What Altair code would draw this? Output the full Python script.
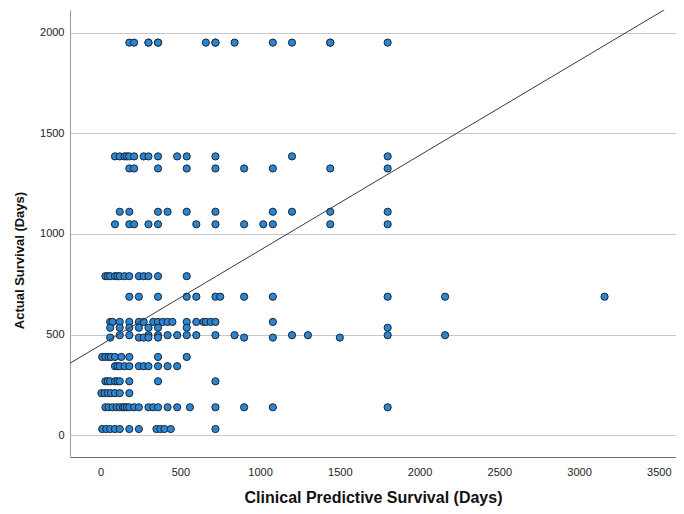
import altair as alt
import pandas as pd

# Actual survival levels (days) and the clinical predictive survival values (days) seen on each level
actual_levels = [1950, 1385, 1325, 1110, 1048, 790, 688, 563, 534, 497, 485, 389, 343, 268, 209, 139, 31]

pred_1950 = [180, 210, 300, 300, 360, 360, 660, 720, 720, 840, 1080, 1200, 1440, 1440, 1800]
pred_1385 = [90, 120, 150, 165, 180, 210, 270, 300, 360, 480, 540, 720, 1200, 1800]
pred_1325 = [180, 210, 360, 540, 720, 900, 1080, 1440, 1800]
pred_1110 = [120, 180, 360, 420, 540, 720, 1080, 1200, 1440, 1800]
pred_1048 = [90, 180, 210, 300, 360, 600, 720, 900, 1020, 1080, 1440, 1800]
pred_790 = [30, 45, 60, 90, 105, 120, 150, 180, 240, 270, 300, 360, 540]
pred_688 = [180, 240, 360, 540, 600, 720, 750, 900, 1080, 1800, 2160, 3160]
pred_563 = [60, 75, 120, 180, 240, 270, 330, 360, 390, 420, 450, 540, 600, 645, 660, 690, 720, 1080]
pred_534 = [60, 120, 180, 240, 300, 360, 540, 1800]
pred_497 = [120, 180, 300, 360, 420, 480, 540, 600, 720, 840, 1200, 1300, 1800, 2160]
pred_485 = [60, 240, 270, 300, 360, 900, 1080, 1500]
pred_389 = [10, 30, 50, 65, 90, 130, 180, 360, 540]
pred_343 = [90, 105, 120, 150, 180, 240, 270, 300, 360, 420, 480]
pred_268 = [30, 45, 60, 90, 105, 120, 180, 360, 720]
pred_209 = [5, 25, 45, 65, 90, 120, 180]
pred_139 = [30, 50, 75, 100, 120, 140, 150, 165, 180, 210, 240, 300, 330, 360, 420, 480, 560, 720, 900, 1080, 1800]
pred_31 = [10, 35, 60, 90, 120, 180, 240, 350, 375, 400, 440, 720]

pred_lists = [pred_1950, pred_1385, pred_1325, pred_1110, pred_1048, pred_790, pred_688,
              pred_563, pred_534, pred_497, pred_485, pred_389, pred_343, pred_268,
              pred_209, pred_139, pred_31]

# Fit line
fit_intercept = 448
fit_slope = 0.471
fit_x = [-300, 3800]

x_ticks = [0, 500, 1000, 1500, 2000, 2500, 3000, 3500]
y_ticks = [0, 500, 1000, 1500, 2000]

rows = []
for level, preds in zip(actual_levels, pred_lists):
    for p in preds:
        rows.append({"pred": p, "actual": level})
df = pd.DataFrame(rows)

line_df = pd.DataFrame({"pred": fit_x, "actual": [fit_intercept + fit_slope * v for v in fit_x]})

FONT = "Liberation Sans"

x_scale = alt.Scale(domain=[-192, 3608], nice=False, zero=False)
y_scale = alt.Scale(domain=[-108, 2112], nice=False, zero=False)

x_axis = alt.Axis(values=x_ticks, format="d", grid=False, ticks=False, labelPadding=9,
                  domainColor="#6e6e6e", domainWidth=1,
                  labelFont=FONT, labelFontSize=11, labelColor="#222222",
                  title="Clinical Predictive Survival (Days)", titleFont=FONT,
                  titleFontSize=16, titleFontWeight="bold", titleColor="#111111",
                  titlePadding=12)
y_axis = alt.Axis(values=y_ticks, format="d", grid=True, gridColor="#c8c8c8", gridWidth=1,
                  ticks=False, labelPadding=6, domainColor="#9a9a9a", domainWidth=1,
                  labelFont=FONT, labelFontSize=11, labelColor="#222222",
                  title="Actual Survival (Days)", titleFont=FONT, titleFontSize=13,
                  titleFontWeight="bold", titleColor="#111111",
                  titleAngle=270, titleX=-44, titleY=250, titleAlign="center",
                  titleBaseline="bottom")

points = alt.Chart(df).mark_circle(
    size=52, fill="#2a86d4", stroke="#1c2633", strokeWidth=1, fillOpacity=1, strokeOpacity=1
).encode(
    x=alt.X("pred:Q", scale=x_scale, axis=x_axis),
    y=alt.Y("actual:Q", scale=y_scale, axis=y_axis),
)

line = alt.Chart(line_df).mark_line(color="#3a3a3a", strokeWidth=1, clip=True).encode(
    x=alt.X("pred:Q", scale=x_scale),
    y=alt.Y("actual:Q", scale=y_scale),
)

chart = alt.layer(points, line).properties(
    width=606, height=447,
    autosize=alt.AutoSizeParams(type="none"),
    padding={"left": 62, "top": 2, "right": 0, "bottom": 50},
    background="white",
).configure_view(stroke=None)

chart.save("out.html", embed_options={"renderer": "svg", "actions": False})
